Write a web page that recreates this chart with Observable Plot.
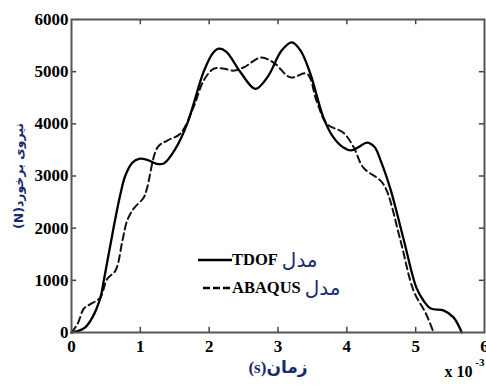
<!DOCTYPE html>
<html><head><meta charset="utf-8">
<script src="https://cdn.jsdelivr.net/npm/d3@7"></script>
<script src="https://cdn.jsdelivr.net/npm/@observablehq/plot@0.6"></script>
<style>
body{margin:0;background:#fff;}
#wrap{position:relative;width:486px;height:385px;overflow:hidden;font-family:"Liberation Serif","DejaVu Serif",serif;}
.leg{position:absolute;left:198px;top:246px;font-weight:bold;font-size:16.5px;line-height:28px;color:#000;}
.leg div{display:flex;align-items:center;white-space:nowrap;}
.fa{font-family:"DejaVu Sans","Noto Sans",sans-serif;font-weight:normal;color:#1a2a70;font-size:20px;margin-left:4px;}
.ylab{position:absolute;left:18px;top:176px;transform:translate(-50%,-50%) rotate(-90deg);white-space:nowrap;font-family:"DejaVu Sans",sans-serif;font-weight:bold;font-size:12.5px;color:#1a2a70;}
</style></head>
<body><div id="wrap"></div>
<script>
const tdofT = [0,0.1,0.2,0.3,0.42,0.47,0.61,0.71,0.78,0.88,0.98,1.1,1.22,1.34,1.5,1.68,1.92,2.05,2.14,2.25,2.45,2.67,2.85,3.05,3.2,3.33,3.47,3.66,3.8,3.95,4.06,4.18,4.29,4.4,4.49,4.64,4.83,5.01,5.12,5.22,5.41,5.55,5.67];
const tdofF = [0,30,100,280,670,1000,2000,2650,3000,3250,3330,3310,3240,3240,3500,4000,5000,5350,5440,5380,5000,4670,4900,5400,5560,5400,4960,4120,3750,3545,3490,3560,3640,3560,3300,2720,1760,860,600,460,420,290,0];
const abaqusT = [0,0.09,0.18,0.27,0.35,0.42,0.52,0.64,0.74,0.81,0.9,1.05,1.1,1.25,1.39,1.58,1.77,1.92,2.07,2.2,2.36,2.5,2.75,2.94,3.18,3.42,3.56,3.71,3.95,4.1,4.24,4.49,4.58,4.78,4.97,5.15,5.26];
const abaqusF = [0,170,460,540,600,670,1030,1190,1760,2150,2370,2590,2780,3550,3680,3810,4310,4830,5060,5060,5020,5080,5270,5170,4890,4960,4440,4000,3830,3550,3160,2910,2720,1760,800,360,0];
const xTicks = [0,1,2,3,4,5,6];
const yTicks = [0,1000,2000,3000,4000,5000,6000];
const seriesNames = ["TDOF","ABAQUS"];
const yLabel = "(N)نیروی برخورد";
const xLabel = "(s)زمان";
const legendWord = "مدل";

const tdof = tdofT.map((t,i)=>({t, f: tdofF[i]}));
const abaqus = abaqusT.map((t,i)=>({t, f: abaqusF[i]}));

const plot = Plot.plot({
  width: 486, height: 385,
  marginLeft: 71, marginTop: 19, marginRight: 2, marginBottom: 53,
  x: {domain: [0,6]},
  y: {domain: [0,6000]},
  style: {fontFamily: '"Liberation Serif", serif', background: "#fff"},
  marks: [
    Plot.axisX(xTicks, {tickSize: 0, tickPadding: 7, fontSize: 17, fontWeight: "bold", label: null, tickFormat: d3.format("d")}),
    Plot.axisY(yTicks, {tickSize: 0, tickPadding: 3, fontSize: 17, fontWeight: "bold", label: null, tickFormat: d3.format("d")}),
    Plot.ruleX(xTicks.slice(1,-1), {x: d=>d, y1: 0, y2: 100, stroke: "#444", strokeWidth: 1.5}),
    Plot.ruleX(xTicks.slice(1,-1), {x: d=>d, y1: 6000, y2: 5900, stroke: "#444", strokeWidth: 1.5}),
    Plot.ruleY(yTicks.slice(1,-1), {y: d=>d, x1: 0, x2: 0.075, stroke: "#444", strokeWidth: 1.5}),
    Plot.ruleY(yTicks.slice(1,-1), {y: d=>d, x1: 6, x2: 5.925, stroke: "#444", strokeWidth: 1.5}),
    Plot.line(abaqus, {x: "t", y: "f", curve: "catmull-rom", stroke: "#111", strokeWidth: 2, strokeDasharray: "7,4"}),
    Plot.line(tdof, {x: "t", y: "f", curve: "catmull-rom", stroke: "#000", strokeWidth: 2.3}),
    Plot.frame({stroke: "#555", strokeWidth: 2}),
    Plot.text([xLabel], {frameAnchor: "bottom", dy: 40, fontSize: 17, fill: "#1a2a70", fontFamily: '"Liberation Serif", "DejaVu Sans", serif', fontWeight: "bold"}),
    Plot.text(["x 10"], {frameAnchor: "bottom-right", dx: -12, dy: 44, fontSize: 16, fontWeight: "bold", textAnchor: "end"}),
    Plot.text(["-3"], {frameAnchor: "bottom-right", dx: 0, dy: 33, fontSize: 11, fontWeight: "bold", textAnchor: "end"})
  ]
});
const wrap = document.getElementById("wrap");
wrap.appendChild(plot);

const yl = document.createElement("div");
yl.className = "ylab";
yl.textContent = yLabel;
wrap.appendChild(yl);

const leg = document.createElement("div");
leg.className = "leg";
const dashes = ["", "7,3"];
seriesNames.forEach((n,i)=>{
  const row = document.createElement("div");
  row.innerHTML = `<svg width="34" height="10"><line x1="${i?5:0}" y1="5" x2="34" y2="5" stroke="#000" stroke-width="2.3" ${dashes[i]?`stroke-dasharray="${dashes[i]}"`:""}/></svg><span>${n}</span><span class="fa">${legendWord}</span>`;
  leg.appendChild(row);
});
wrap.appendChild(leg);
</script>
</body></html>
